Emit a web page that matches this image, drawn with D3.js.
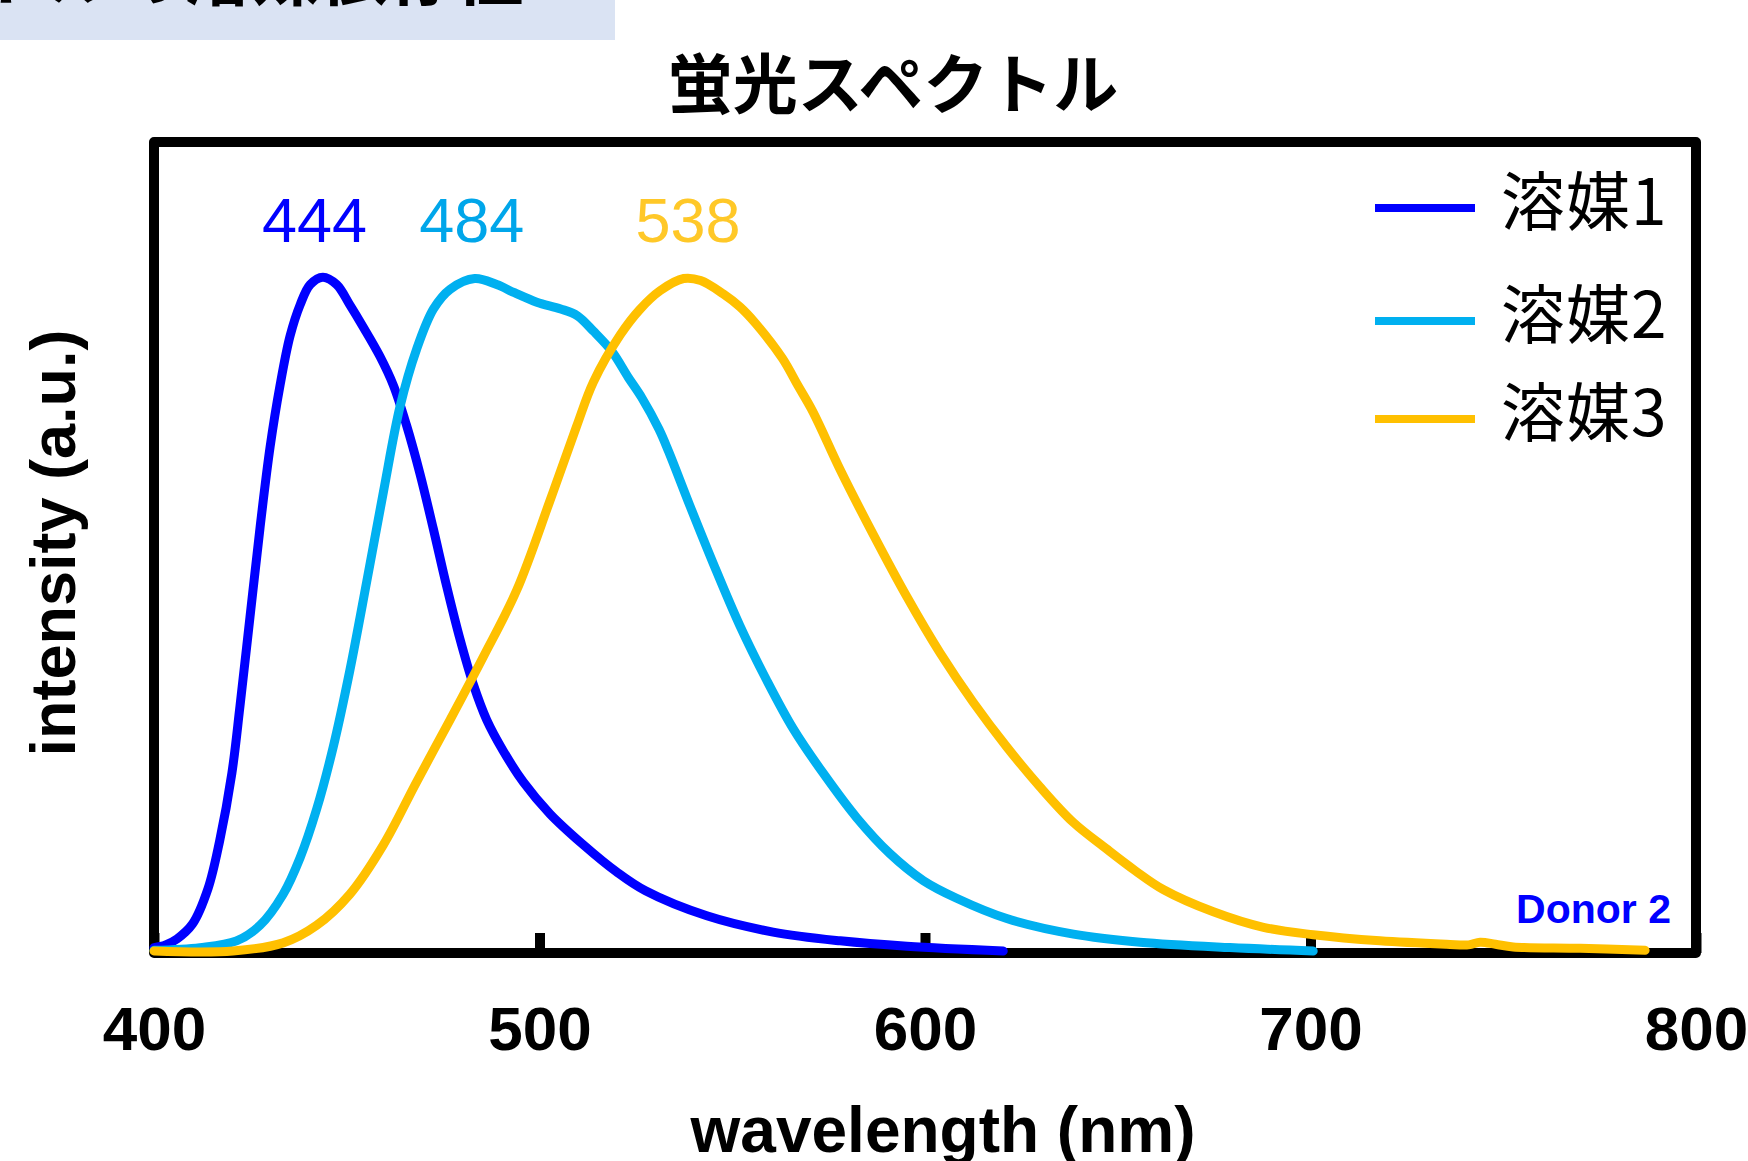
<!DOCTYPE html>
<html>
<head>
<meta charset="utf-8">
<script src="https://cdn.jsdelivr.net/npm/d3@7"></script>
<style>
  body { margin: 0; background: #fff; }
  svg { display: block; }
</style>
</head>
<body>
<script>
const WIDTH = 1748
const HEIGHT = 1161

// 溶媒1 (peak 444 nm)
const wl1 = [400, 403, 406, 410, 414, 417, 420.2, 422.3, 424.9, 427.5, 430.1, 432.7, 435.3, 437.9, 440.5, 443.8, 447.4, 450.8, 454.3, 458.6, 462.1, 465.5, 469, 472.4, 475.9, 479.4, 482.8, 486.3, 490.6, 495.8, 502.7, 511.4, 520, 527.5, 543.4, 560.6, 578, 595.3, 620.3]
const int1 = [0.008, 0.012, 0.021, 0.043, 0.095, 0.165, 0.266, 0.365, 0.497, 0.629, 0.748, 0.840, 0.913, 0.959, 0.989, 1.0, 0.989, 0.959, 0.926, 0.883, 0.840, 0.781, 0.709, 0.629, 0.543, 0.464, 0.398, 0.345, 0.299, 0.253, 0.206, 0.160, 0.120, 0.092, 0.055, 0.031, 0.018, 0.010, 0.003]

// 溶媒2 (peak 484 nm)
const wl2 = [400, 411.9, 421.4, 427.5, 433.5, 437.9, 442.2, 446.5, 450.8, 455.2, 459.5, 463.8, 468.1, 472.5, 476.8, 483.2, 488.9, 493.5, 499.3, 505.5, 509.8, 514, 518.8, 523, 526.5, 531, 533.5, 539, 545.1, 552, 558.9, 565.8, 573.6, 582.3, 590.9, 599.6, 608.2, 621.2, 638.5, 655.8, 679.1, 700.7]
const int2 = [0.004, 0.008, 0.018, 0.041, 0.087, 0.141, 0.213, 0.305, 0.418, 0.550, 0.682, 0.808, 0.893, 0.953, 0.982, 0.998, 0.989, 0.977, 0.963, 0.953, 0.943, 0.920, 0.890, 0.852, 0.822, 0.775, 0.742, 0.662, 0.576, 0.484, 0.404, 0.332, 0.266, 0.200, 0.147, 0.107, 0.081, 0.051, 0.028, 0.016, 0.008, 0.003]

// 溶媒3 (peak 538 nm)
const wl3 = [400, 420.5, 433.5, 442.2, 450.8, 459.5, 468.1, 476.8, 485.4, 494.1, 502.7, 509.6, 514, 521, 526, 531.3, 537.4, 541.8, 547.7, 552, 556, 563, 567, 571, 578, 586.6, 595.3, 603.9, 612.5, 621.2, 629.8, 638.5, 647.1, 654.5, 661.8, 674.8, 687.8, 700.7, 718, 735.3, 741, 744, 748, 752.6, 770, 786.8]
const int3 = [0.003, 0.003, 0.015, 0.041, 0.087, 0.160, 0.253, 0.345, 0.438, 0.537, 0.669, 0.779, 0.845, 0.915, 0.952, 0.980, 0.998, 0.995, 0.975, 0.956, 0.932, 0.880, 0.840, 0.800, 0.715, 0.619, 0.527, 0.444, 0.371, 0.305, 0.246, 0.193, 0.154, 0.122, 0.094, 0.061, 0.038, 0.027, 0.018, 0.013, 0.012, 0.016, 0.013, 0.009, 0.007, 0.004]

const seriesNames = ['溶媒1', '溶媒2', '溶媒3']
const seriesColors = ['#0000ff', '#00b0f0', '#ffc000']
const peakValues = [444, 484, 538]
const peakColors = ['#0000ff', '#00a6ea', '#ffc828']
const xTicks = [400, 500, 600, 700, 800]

const SERIES = [
  { name: seriesNames[0], wl: wl1, val: int1, color: seriesColors[0] },
  { name: seriesNames[1], wl: wl2, val: int2, color: seriesColors[1] },
  { name: seriesNames[2], wl: wl3, val: int3, color: seriesColors[2] }
]

const svg = d3.select('body').append('svg')
  .attr('width', WIDTH)
  .attr('height', HEIGHT)

const JP = '"Noto Sans CJK JP", "Noto Sans", sans-serif'
const LAT = '"Liberation Sans", Arial, sans-serif'

// cut-off banner at the top left
svg.append('rect')
  .attr('x', 0).attr('y', 0)
  .attr('width', 615).attr('height', 40)
  .attr('fill', '#dae3f3')
svg.append('text')
  .attr('x', 524).attr('y', 0)
  .attr('text-anchor', 'end')
  .attr('font-family', JP)
  .attr('font-weight', 'bold')
  .attr('font-size', 68)
  .text('蛍光スペクトルの溶媒依存性')

// plot area
const PL = 154, PR = 1696, PT = 142, PB = 953

const x = d3.scaleLinear().domain([400, 800]).range([PL, PR])
const y = d3.scaleLinear().domain([0, 1.2]).range([PB, PT])

// title
svg.append('text')
  .attr('x', 893).attr('y', 108)
  .attr('text-anchor', 'middle')
  .attr('font-family', JP)
  .attr('font-weight', 'bold')
  .attr('font-size', 65)
  .text('蛍光スペクトル')

// frame
svg.append('rect')
  .attr('x', PL).attr('y', PT)
  .attr('width', PR - PL).attr('height', PB - PT)
  .attr('fill', 'none')
  .attr('stroke', '#000')
  .attr('stroke-width', 10)
  .attr('stroke-linejoin', 'round')

// x axis, ticks pointing inward
const xAxis = svg.append('g')
  .attr('transform', `translate(0,${PB})`)
  .call(d3.axisBottom(x).tickValues(xTicks).tickFormat(d3.format('d')).tickSizeInner(-20).tickSizeOuter(0))
xAxis.select('.domain').remove()
xAxis.selectAll('.tick line')
  .attr('stroke', '#000')
  .attr('stroke-width', 10)
xAxis.selectAll('.tick text')
  .attr('y', 97)
  .attr('dy', null)
  .attr('fill', '#000')
  .attr('font-family', LAT)
  .attr('font-weight', 'bold')
  .attr('font-size', 62)

// axis titles
svg.append('text')
  .attr('x', 943).attr('y', 1152)
  .attr('text-anchor', 'middle')
  .attr('font-family', LAT)
  .attr('font-weight', 'bold')
  .attr('font-size', 64)
  .text('wavelength (nm)')

svg.append('text')
  .attr('transform', 'translate(75,543) rotate(-90)')
  .attr('text-anchor', 'middle')
  .attr('font-family', LAT)
  .attr('font-weight', 'bold')
  .attr('font-size', 63)
  .text('intensity (a.u.)')

// spectra
const line = d3.line()
  .x(d => x(d[0]))
  .y(d => y(d[1]))
  .curve(d3.curveCatmullRom.alpha(0.5))

svg.append('g').selectAll('path')
  .data(SERIES)
  .enter()
  .append('path')
  .attr('d', s => line(s.wl.map((w, i) => [w, s.val[i]])))
  .attr('fill', 'none')
  .attr('stroke', s => s.color)
  .attr('stroke-width', 9)
  .attr('stroke-linecap', 'round')
  .attr('stroke-linejoin', 'round')

// peak labels
const labelShift = [-9, -6, 2]
svg.append('g').selectAll('text')
  .data(peakValues)
  .enter()
  .append('text')
  .attr('x', (d, i) => x(d) + labelShift[i])
  .attr('y', 242)
  .attr('text-anchor', 'middle')
  .attr('font-family', LAT)
  .attr('font-size', 63)
  .attr('fill', (d, i) => peakColors[i])
  .text(d => d)

// legend
const legendY = [208, 321, 419]
const legend = svg.append('g').selectAll('g')
  .data(SERIES)
  .enter()
  .append('g')
  .attr('transform', (d, i) => `translate(1375,${legendY[i]})`)
legend.append('line')
  .attr('x1', 0).attr('x2', 100)
  .attr('stroke', d => d.color)
  .attr('stroke-width', 8)
legend.append('text')
  .attr('x', 126).attr('y', 17)
  .attr('font-family', JP)
  .attr('font-size', 64)
  .attr('letter-spacing', 1)
  .attr('fill', '#000')
  .text(d => d.name)

// sample tag
svg.append('text')
  .attr('x', 1671).attr('y', 923)
  .attr('text-anchor', 'end')
  .attr('font-family', LAT)
  .attr('font-weight', 'bold')
  .attr('font-size', 41)
  .attr('fill', '#0000ff')
  .text('Donor 2')
</script>
</body>
</html>
